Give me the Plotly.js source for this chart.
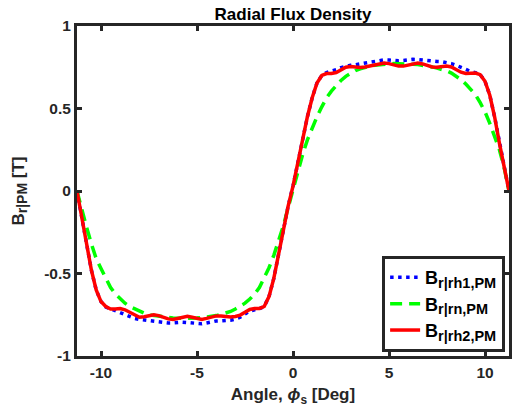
<!DOCTYPE html>
<html>
<head>
<meta charset="utf-8">
<script src="https://cdn.plot.ly/plotly-3.0.1.min.js"></script>
<style>html,body{margin:0;padding:0;background:#fff;}#chart{width:512px;height:407px;}</style>
</head>
<body>
<div id="chart"></div>
<script>
const angle = [-11.25,-11,-10.75,-10.5,-10.25,-10,-9.75,-9.5,-9.25,-9,-8.75,-8.5,-8.25,-8,-7.75,-7.5,-7.25,-7,-6.75,-6.5,-6.25,-6,-5.75,-5.5,-5.25,-5,-4.75,-4.5,-4.25,-4,-3.75,-3.5,-3.25,-3,-2.75,-2.5,-2.25,-2,-1.75,-1.5,-1.25,-1,-0.75,-0.5,-0.25,0,0.25,0.5,0.75,1,1.25,1.5,1.75,2,2.25,2.5,2.75,3,3.25,3.5,3.75,4,4.25,4.5,4.75,5,5.25,5.5,5.75,6,6.25,6.5,6.75,7,7.25,7.5,7.75,8,8.25,8.5,8.75,9,9.25,9.5,9.75,10,10.25,10.5,10.75,11,11.25];

const bRh1 = [0,-0.16,-0.32,-0.48,-0.60,-0.67,-0.703,-0.715,-0.725,-0.738,-0.75,-0.762,-0.772,-0.778,-0.782,-0.785,-0.788,-0.792,-0.797,-0.80,-0.80,-0.797,-0.795,-0.797,-0.80,-0.803,-0.805,-0.80,-0.792,-0.788,-0.787,-0.787,-0.783,-0.776,-0.765,-0.745,-0.728,-0.72,-0.713,-0.70,-0.64,-0.53,-0.38,-0.22,-0.09,
  0.03,
  0.16,0.31,0.45,0.565,0.655,0.70,0.718,0.725,0.735,0.748,0.757,0.762,0.765,0.77,0.777,0.782,0.787,0.792,0.795,0.794,0.79,0.789,0.791,0.795,0.798,0.797,0.793,0.789,0.786,0.785,0.784,0.78,0.772,0.762,0.748,0.735,0.725,0.717,0.705,0.665,0.58,0.45,0.29,0.15,0];

const bRn = [0,-0.12,-0.22,-0.32,-0.41,-0.47,-0.53,-0.585,-0.625,-0.655,-0.68,-0.70,-0.715,-0.728,-0.74,-0.75,-0.755,-0.76,-0.765,-0.768,-0.77,-0.771,-0.772,-0.772,-0.771,-0.77,-0.768,-0.765,-0.76,-0.755,-0.748,-0.74,-0.73,-0.715,-0.70,-0.68,-0.655,-0.625,-0.585,-0.53,-0.465,-0.39,-0.30,-0.21,-0.10,
  0.01,
  0.13,0.22,0.31,0.385,0.45,0.51,0.565,0.605,0.64,0.67,0.695,0.715,0.73,0.74,0.75,0.757,0.762,0.766,0.769,0.771,0.772,0.772,0.771,0.77,0.768,0.766,0.763,0.758,0.752,0.745,0.738,0.728,0.715,0.698,0.675,0.648,0.617,0.585,0.535,0.48,0.41,0.33,0.25,0.14,0];

const bRh2 = [0,-0.16,-0.32,-0.48,-0.60,-0.67,-0.70,-0.715,-0.715,-0.712,-0.72,-0.735,-0.755,-0.765,-0.762,-0.755,-0.75,-0.755,-0.765,-0.775,-0.778,-0.772,-0.763,-0.76,-0.765,-0.774,-0.778,-0.772,-0.763,-0.757,-0.757,-0.76,-0.763,-0.76,-0.752,-0.735,-0.718,-0.712,-0.712,-0.70,-0.64,-0.53,-0.38,-0.22,-0.09,
  0.03,
  0.16,0.31,0.45,0.565,0.655,0.70,0.712,0.712,0.718,0.735,0.75,0.755,0.752,0.748,0.752,0.758,0.765,0.772,0.775,0.772,0.763,0.757,0.757,0.764,0.773,0.775,0.77,0.76,0.752,0.75,0.754,0.757,0.752,0.737,0.72,0.712,0.713,0.715,0.705,0.665,0.58,0.45,0.29,0.15,0];

const seriesNames = [
  'B<sub><span style="font-size:14.5px">r|rh1,PM</span></sub>',
  'B<sub><span style="font-size:14.5px">r|rn,PM</span></sub>',
  'B<sub><span style="font-size:14.5px">r|rh2,PM</span></sub>'
];
const xTickVals = [-10,-5,0,5,10];
const xTickText = ['-10','-5','0','5','10'];
const yTickVals = [-1,-0.5,0,0.5,1];
const yTickText = ['-1','-0.5','0','0.5','1'];

const axisColor = '#262626';
const fontFam = '"Liberation Sans", Arial, Helvetica, sans-serif';

const traces = [
  {x: angle, y: bRh1, name: seriesNames[0], mode: 'lines', line: {color: '#0000FF', width: 3.5, dash: '3.5px,4.5px'}},
  {x: angle, y: bRn, name: seriesNames[1], mode: 'lines', line: {color: '#00FF00', width: 3.5, dash: '12px,7px'}},
  {x: angle, y: bRh2, name: seriesNames[2], mode: 'lines', line: {color: '#FF0000', width: 3.5}}
];

const axBase = {
  showline: true, linecolor: axisColor, linewidth: 3, mirror: 'ticks',
  ticks: 'inside', ticklen: 5, tickwidth: 3, tickcolor: axisColor,
  showgrid: false, zeroline: false,
  tickfont: {family: fontFam, size: 15.5, color: axisColor, weight: 'bold'}
};

const layout = {
  width: 512, height: 407,
  margin: {l: 77, r: 3, t: 26, b: 51},
  paper_bgcolor: '#fff', plot_bgcolor: '#fff',
  showlegend: true,
  title: {text: 'Radial Flux Density', font: {family: fontFam, size: 17, color: '#000', weight: 'bold'},
          x: 0.5, xref: 'paper', y: 0.966, yref: 'container', yanchor: 'middle'},
  xaxis: Object.assign({}, axBase, {
    range: [-11.25, 11.25], tickvals: xTickVals, ticktext: xTickText,
    title: {text: 'Angle, <i>ϕ</i><sub>s</sub> [Deg]', font: {family: fontFam, size: 17, color: axisColor, weight: 'bold'}, standoff: 9}
  }),
  yaxis: Object.assign({}, axBase, {
    range: [-1, 1], tickvals: yTickVals, ticktext: yTickText,
    title: {text: 'B<sub><span style="font-size:14px">r|PM</span></sub> [T]', font: {family: fontFam, size: 17, color: axisColor, weight: 'bold'}, standoff: 16}
  }),
  legend: {
    x: 0.991, y: 0.012, xanchor: 'right', yanchor: 'bottom',
    bgcolor: '#fff', bordercolor: axisColor, borderwidth: 3,
    font: {family: fontFam, size: 18, color: '#000', weight: 'bold'},
    itemwidth: 30, tracegroupgap: 0
  }
};

Plotly.newPlot('chart', traces, layout, {staticPlot: true, displayModeBar: false});
</script>
</body>
</html>
